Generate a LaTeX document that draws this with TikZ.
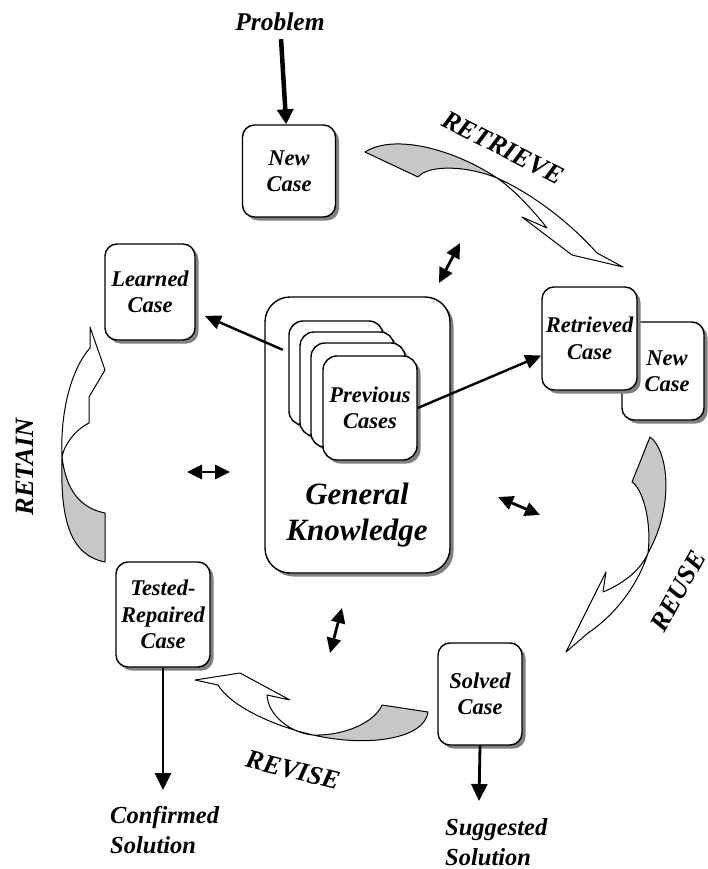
\documentclass[tikz,border=0pt]{standalone}
\usepackage{fontspec}
\setmainfont{Liberation Serif}
\usetikzlibrary{arrows.meta,shadows,calc}
\tikzset{
  txt/.style={font=\bfseries\itshape\fontsize{22.5}{26.5}\selectfont, align=center, inner sep=0pt},
  bigtxt/.style={font=\bfseries\itshape\fontsize{24.5}{30}\selectfont, align=left, inner sep=0pt},
  steptxt/.style={font=\bfseries\itshape\fontsize{26.5}{30}\selectfont, inner sep=0pt},
  casebox/.style={draw, line width=1.4pt, fill=white, rounded corners=12pt,
    drop shadow={shadow xshift=3.5pt, shadow yshift=-3.5pt, fill=black!50, opacity=1},
    txt},
  stackcard/.style={casebox, minimum width=94pt, minimum height=104pt, rounded corners=14pt},
  flow/.style={line width=2.4pt, -{Triangle[length=16pt,width=14pt]}},
  heavyflow/.style={line width=4.5pt, -{Triangle[length=15pt,width=16pt]}},
  outflow/.style={line width=2.8pt, -{Triangle[length=17pt,width=16pt]}},
  exchange/.style={line width=2.8pt, {Triangle[length=15pt,width=14pt]}-{Triangle[length=15pt,width=14pt]}},
  bandback/.style={draw, line width=1pt, fill=black!22, line join=round},
  bandfront/.style={draw, line width=1pt, fill=white, line join=round},
}
\begin{document}
\begin{tikzpicture}[x=1pt, y=-1pt]
\useasboundingbox (0,0) rectangle (708,869);

% ---- case boxes round the cycle ----
\node[casebox, minimum width=93pt, minimum height=92pt] (newcase) at (289,171) {New\\Case};
\node[casebox, minimum width=90pt, minimum height=96pt] (learned) at (150,292) {Learned\\Case};
\node[casebox, minimum width=82pt, minimum height=98pt] (newcase2) at (663,371) {\hspace*{8pt}New\\\hspace*{8pt}Case};
\node[casebox, minimum width=95pt, minimum height=103pt] (retrieved) at (589.5,338.5) {Retrieved\\Case};
\node[casebox, minimum width=94pt, minimum height=105pt] (tested) at (163,614.5) {Tested-\\Repaired\\Case};
\node[casebox, minimum width=84pt, minimum height=102pt] (solved) at (480,694) {Solved\\Case};

% ---- general knowledge with the stack of previous cases ----
\node[casebox, rounded corners=25pt, minimum width=185pt, minimum height=276pt] (gk) at (357.5,435) {};
\node[stackcard] (card1) at (336,373) {};
\node[stackcard] (card2) at (347,384) {};
\node[stackcard] (card3) at (358,395) {};
\node[stackcard] (card4) at (370,408) {Previous\\Cases};
\node[txt, font=\bfseries\itshape\fontsize{31}{36}\selectfont] (gktext) at (357,515) {General\\Knowledge};

% ---- inputs and outputs ----
\node[bigtxt, font=\bfseries\itshape\fontsize{25.5}{30}\selectfont] (problem) at (280,22) {Problem};
\node[bigtxt, anchor=west] (confirmed) at (110,830) {Confirmed\\Solution};
\node[bigtxt, anchor=west] (suggested) at (445,842) {Suggested\\Solution};

\draw[heavyflow, shorten <=8pt] (problem) -- (newcase);
\coordinate (confend) at (163,790);
\coordinate (suggend) at (479,801);
\draw[outflow] (tested.south) -- (confend);
\draw[outflow] (solved.south) -- (suggend);

% ---- links between the case base and the cycle ----
\draw[flow, shorten <=6pt, shorten >=10pt] (card1) -- (learned);
\draw[flow] (card4.east) -- ($(retrieved.west)+(0,17)$);

% ---- two-way exchanges with general knowledge ----
\coordinate (xa1) at (439,283); \coordinate (xa2) at (460,243);
\coordinate (xb1) at (187,472); \coordinate (xb2) at (230,472);
\coordinate (xc1) at (498,497); \coordinate (xc2) at (540,515);
\coordinate (xd1) at (342,608); \coordinate (xd2) at (330,653);
\draw[exchange] (xa1) -- (xa2);
\draw[exchange] (xb1) -- (xb2);
\draw[exchange] (xc1) -- (xc2);
\draw[exchange] (xd1) -- (xd2);

% ---- twisted block arrows of the four steps ----
% retrieve
\draw[bandback] (365,152) .. controls (395,133) and (455,150) .. (497,178)
  .. controls (465,165) and (428,165) .. (418,177) -- cycle;
\draw[bandfront] (497,178) .. controls (535,195) and (572,225) .. (597,253)
  -- (623,267) -- (572,255) -- (522,217) -- (547,228)
  .. controls (537,215) and (515,190) .. (497,178) -- cycle;
% reuse
\draw[bandback] (650,437) .. controls (668,450) and (675,505) .. (648,553)
  .. controls (652,520) and (642,488) .. (632,482) -- cycle;
\draw[bandfront] (648,553) .. controls (638,585) and (615,615) .. (588,633)
  -- (566,652) -- (606,572) -- (603,592)
  .. controls (620,585) and (640,572) .. (648,553) -- cycle;
% revise
\draw[bandback] (382,705) -- (428,712) .. controls (425,738) and (370,748) .. (313,735)
  .. controls (345,736) and (375,722) .. cycle;
\draw[bandfront] (313,735) .. controls (270,725) and (230,705) .. (218,685)
  -- (195,680) -- (240,673) -- (290,700) -- (267,695)
  .. controls (268,715) and (290,733) .. (313,735) -- cycle;
% retain
\draw[bandback] (62,457) .. controls (60,520) and (70,555) .. (105,562) -- (105,513)
  .. controls (80,508) and (66,490) .. cycle;
\draw[bandfront] (62,457) .. controls (60,410) and (72,368) .. (90,348)
  -- (90,327) -- (105,370) -- (89,397) -- (89,423)
  .. controls (75,430) and (64,445) .. (62,457) -- cycle;

% ---- step names ----
\node[steptxt, rotate=-27] (retrieve) at (503,148) {RETRIEVE};
\node[steptxt, rotate=61] (reuse) at (678,591) {REUSE};
\node[steptxt, rotate=-14] (revise) at (293,770) {REVISE};
\node[steptxt, rotate=90] (retain) at (25,467) {RETAIN};
\end{tikzpicture}
\end{document}
